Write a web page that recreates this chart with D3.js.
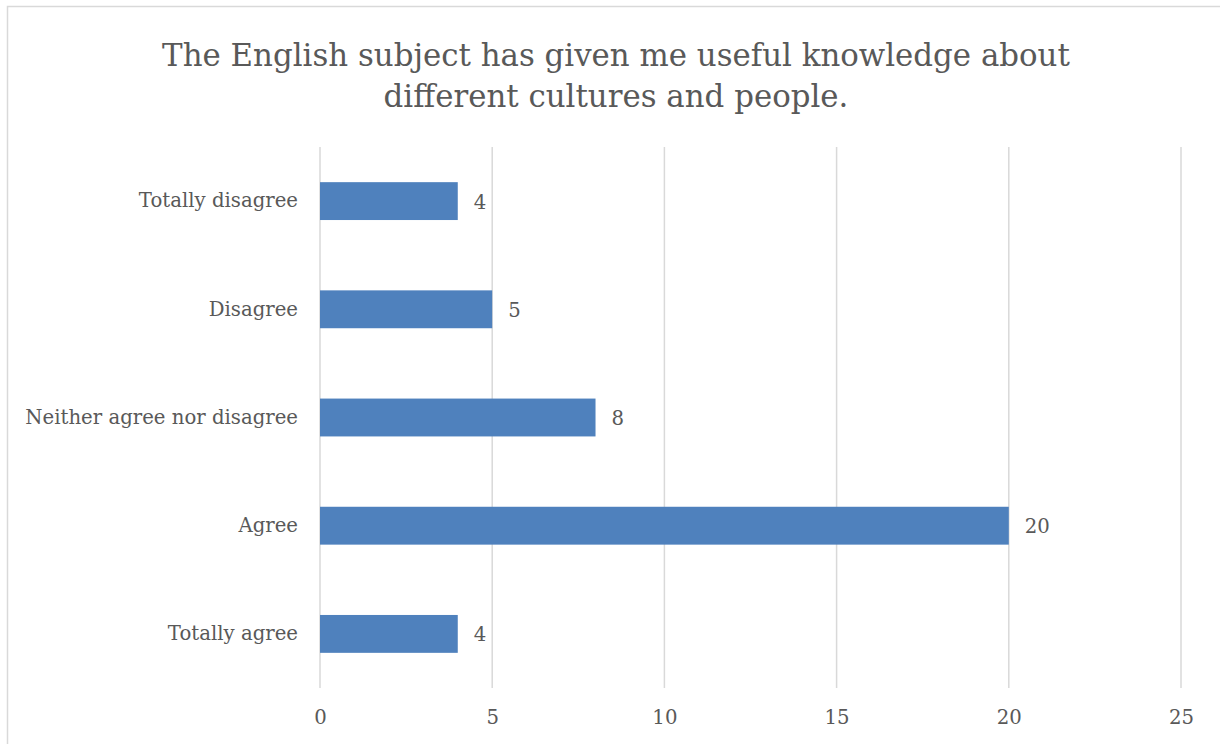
<!DOCTYPE html>
<html>
<head>
<meta charset="utf-8">
<script src="https://cdn.jsdelivr.net/npm/d3@7"></script>
<style>
  html, body { margin: 0; padding: 0; background: #fff; }
  svg { display: block; }
  text { font-family: "DejaVu Serif", serif; fill: #595959; }
</style>
</head>
<body>
<script>
// Survey responses: "The English subject has given me useful knowledge about different cultures and people."
const categories = ["Totally disagree", "Disagree", "Neither agree nor disagree", "Agree", "Totally agree"];
const counts = [4, 5, 8, 20, 4];
const tickValues = [0, 5, 10, 15, 20, 25];
const titleLines = ["The English subject has given me useful knowledge about", "different cultures and people."];

const W = 1220, H = 744;
const svg = d3.select("body").append("svg").attr("width", W).attr("height", H);

// Outer chart frame (runs off the right and bottom edges)
svg.append("rect")
  .attr("x", 7.5).attr("y", 6.5)
  .attr("width", W + 20).attr("height", H + 20)
  .attr("fill", "#fff").attr("stroke", "#d9d9d9").attr("stroke-width", 1.5);

const plot = { left: 320, right: 1181, top: 147, bottom: 688 };

const x = d3.scaleLinear().domain([0, 25]).range([plot.left, plot.right]);
const y = d3.scaleBand().domain(categories).range([plot.top, plot.bottom]).paddingInner(0.65).paddingOuter(0.325);

// Fit a text element's font size to a target width
function fitWidth(sel, target) {
  sel.each(function () {
    const base = parseFloat(this.getAttribute("font-size"));
    const w = this.getComputedTextLength();
    this.setAttribute("font-size", (base * target / w).toFixed(2));
  });
}

// Title
const title = svg.append("g");
title.selectAll("text").data(titleLines).join("text")
  .attr("x", 616).attr("y", (d, i) => 66 + i * 41)
  .attr("text-anchor", "middle").attr("font-size", 34)
  .text(d => d);
fitWidth(title.select("text"), 908);
const tSize = title.select("text").attr("font-size");
title.selectAll("text").attr("font-size", tSize);

// Vertical gridlines
svg.append("g").selectAll("line").data(tickValues).join("line")
  .attr("x1", d => x(d)).attr("x2", d => x(d))
  .attr("y1", plot.top).attr("y2", plot.bottom)
  .attr("stroke", "#d9d9d9").attr("stroke-width", 1.5);

// X axis tick labels
const xAxis = svg.append("g")
  .attr("transform", `translate(0,${plot.bottom})`)
  .call(d3.axisBottom(x).tickValues(tickValues).tickSize(0).tickPadding(22));
xAxis.select(".domain").remove();
xAxis.selectAll("text").attr("font-size", 20).attr("font-family", "DejaVu Serif, serif").attr("fill", "#595959");

// Category labels
const yAxis = svg.append("g")
  .attr("transform", `translate(${plot.left},0)`)
  .call(d3.axisLeft(y).tickSize(0).tickPadding(22));
yAxis.select(".domain").remove();
yAxis.selectAll("text").attr("font-size", 20).attr("font-family", "DejaVu Serif, serif").attr("fill", "#595959");
const widest = yAxis.selectAll("text").filter(d => d === "Neither agree nor disagree");
fitWidth(widest, 273);
const catSize = widest.attr("font-size");
yAxis.selectAll("text").attr("font-size", catSize);
xAxis.selectAll("text").attr("font-size", catSize);

// Bars
svg.append("g").selectAll("rect").data(categories).join("rect")
  .attr("x", x(0)).attr("y", d => y(d))
  .attr("width", (d, i) => x(counts[i]) - x(0))
  .attr("height", y.bandwidth())
  .attr("fill", "#4f81bd");

// Value labels
svg.append("g").selectAll("text").data(categories).join("text")
  .attr("x", (d, i) => x(counts[i]) + 16)
  .attr("y", d => y(d) + y.bandwidth() / 2)
  .attr("dy", "0.38em")
  .attr("font-size", catSize)
  .text((d, i) => counts[i]);
</script>
</body>
</html>
